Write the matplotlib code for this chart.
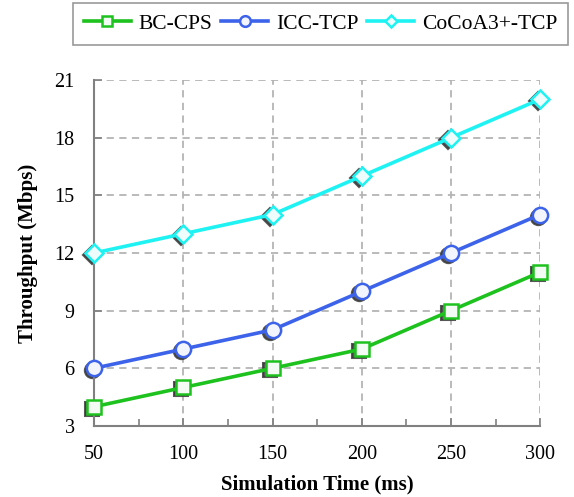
import numpy as np
import matplotlib
matplotlib.use("Agg")
import matplotlib.pyplot as plt
import matplotlib.transforms as mtransforms

plt.rcParams['font.family'] = ['Liberation Serif', 'DejaVu Serif']

# data
sim_time = [50, 100, 150, 200, 250, 300]
bc_cps = [4, 5, 6, 7, 9, 11]
icc_tcp = [6, 7, 8, 10, 12, 14]
cocoa_tcp = [12, 13, 14, 16, 18, 20]

fig = plt.figure(figsize=(5.74, 4.97), dpi=100)
ax = fig.add_axes([0.164, 0.143, 0.777, 0.696])

series = [
    (bc_cps, '#1ec21e', 's', 10.5, '#f4fbf4', 'BC-CPS'),
    (icc_tcp, '#3c63ea', 'o', 11, '#f2f5fd', 'ICC-TCP'),
    (cocoa_tcp, '#1ef2f2', 'D', 9, '#eefcfc', 'CoCoA3+-TCP'),
]

# dark drop shadow under the markers
shadow_tr = mtransforms.offset_copy(ax.transData, fig=fig, x=-2.5, y=-2, units='dots')
for vals, col, mk, ms, fc, lab in series:
    ax.plot(sim_time, vals, ls='none', marker=mk, ms=ms, mfc='#3a3a3a', mec='#3a3a3a',
            mew=1.5, alpha=0.85, transform=shadow_tr, clip_on=False, zorder=2)

for vals, col, mk, ms, fc, lab in series:
    ax.plot(sim_time, vals, color=col, lw=2.6, marker=mk, ms=ms, mfc=fc, mec=col,
            mew=1.8, label=lab, clip_on=False, zorder=3)

ax.set_xlim(50, 300)
ax.set_ylim(3, 21)
ax.set_xticks(sim_time)
ax.set_xticks([75, 125, 175, 225, 275], minor=True)
ax.set_yticks(np.arange(3, 22, 3))

ax.grid(True, which='major', color='#b4b4b4', ls=(0, (4, 3)), lw=1.3)
ax.set_axisbelow(True)
for s in ['top', 'right']:
    ax.spines[s].set_visible(False)
for s in ['left', 'bottom']:
    ax.spines[s].set_color('#808080')
    ax.spines[s].set_linewidth(1.5)

ax.tick_params(which='both', direction='in', color='#808080', width=1.2,
               labelsize=14.5)
ax.tick_params(axis='x', which='both', pad=14)
ax.tick_params(axis='y', which='both', pad=14)
ax.tick_params(which='major', length=6)
ax.tick_params(which='minor', length=5)

ax.set_xlabel('Simulation Time (ms)', fontsize=15, fontweight='bold', labelpad=7)
ax.set_ylabel('Throughput (Mbps)', fontsize=15, fontweight='bold', labelpad=12)

leg = fig.legend(loc='upper left', bbox_to_anchor=(0.127, 0.994), ncol=3,
                 fontsize=15.5, frameon=True, fancybox=False, edgecolor='#808080',
                 handlelength=2.2, columnspacing=0.4, handletextpad=0.35,
                 borderpad=0.5, borderaxespad=0.0, markerscale=0.7)
leg.get_frame().set_linewidth(1.2)

fig.savefig('out.png', dpi=100)
